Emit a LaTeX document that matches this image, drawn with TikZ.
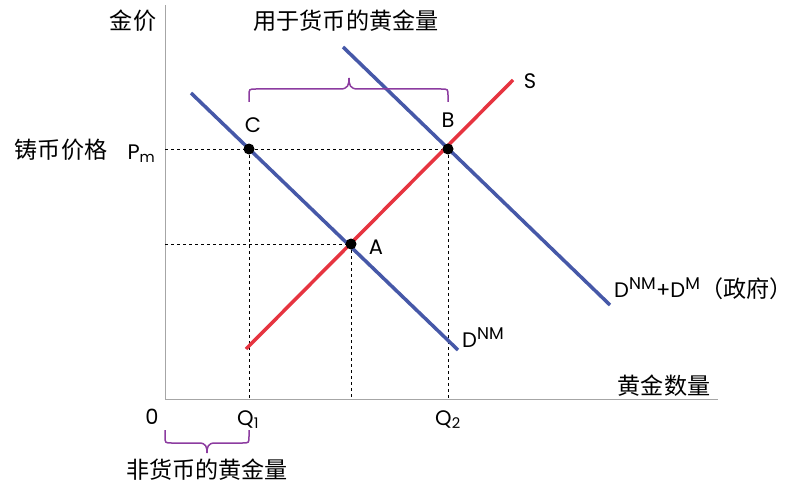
\documentclass[tikz,border=0pt]{standalone}
\usepackage{fontspec}
\setmainfont{Poppins}
\newfontfamily\cjk{Noto Sans CJK SC}[Scale=1.1]
\definecolor{demandblue}{RGB}{70,88,168}
\definecolor{supplyred}{RGB}{230,52,64}
\definecolor{bracepurple}{RGB}{140,60,160}

\begin{document}
\begin{tikzpicture}[x=1pt, y=-1pt, font=\fontsize{21}{24}\selectfont]
\useasboundingbox (0,0) rectangle (792,484);

        % Define axis points
        \coordinate (O) at (165, 399);
        \coordinate (Ytop) at (165, 5);
        \coordinate (Xend) at (718, 399);

        % Define intersection points
        \coordinate (C) at (249, 149);
        \coordinate (B) at (448, 149);
        \coordinate (A) at (351, 244);
        \coordinate (Pm) at (165, 149);
        \coordinate (Pa) at (165, 244);
        \coordinate (Q1) at (249, 399);
        \coordinate (QA) at (351, 399);
        \coordinate (Q2) at (448, 399);

        % Define curve ends
        \coordinate (N1) at (191, 93);
        \coordinate (N2) at (458, 350);
        \coordinate (M1) at (343, 47);
        \coordinate (M2) at (610, 305);
        \coordinate (S1) at (246, 349);
        \coordinate (S2) at (513, 80);

        % Draw axes
        \draw[line width=1pt, gray!70] (Ytop) -- (O) -- (Xend);

        % Draw dashed guides
        \draw[dashed, line width=0.8pt] (Pm) -- (B);
        \draw[dashed, line width=0.8pt] (Pa) -- (A);
        \draw[dashed, line width=0.8pt] (C) -- (Q1);
        \draw[dashed, line width=0.8pt] (A) -- (QA);
        \draw[dashed, line width=0.8pt] (B) -- (Q2);

        % Draw demand and supply
        \draw[line width=3.5pt, demandblue] (N1) -- (N2);
        \draw[line width=3.5pt, demandblue] (M1) -- (M2);
        \draw[line width=3.5pt, supplyred] (S1) -- (S2);

        % Draw dots
        \fill (C) circle (5.5);
        \fill (B) circle (5.5);
        \fill (A) circle (5.5);

        % Draw braces
        \draw[line width=1.5pt, bracepurple] (249, 102) -- (249, 96) .. controls (249, 89) .. (256, 89)
            -- (340, 89) .. controls (348, 89) and (349, 85) .. (349, 78)
            .. controls (349, 85) and (350, 89) .. (358, 89)
            -- (441, 89) .. controls (448, 89) .. (448, 96) -- (448, 102);
        \draw[line width=1.5pt, bracepurple] (165, 430) -- (165, 436) .. controls (165, 443) .. (172, 443)
            -- (199, 443) .. controls (206, 443) and (207, 447) .. (207, 453)
            .. controls (207, 447) and (208, 443) .. (215, 443)
            -- (242, 443) .. controls (249, 443) .. (249, 436) -- (249, 430);

        % Labels
        \node (jinjia) at (133, 21) {\cjk 金价};
        \node (yongyu) at (346, 21) {\cjk 用于货币的黄金量};
        \node (zhubi) at (61, 150) {\cjk 铸币价格};
        \node[anchor=base west] (pmlab) at (124, 159) {P\textsubscript{m}};
        \node (clab) at (253, 125) {C};
        \node (blab) at (448, 120) {B};
        \node (alab) at (376, 247) {A};
        \node (slab) at (530, 81) {S};
        \node[anchor=base west, inner sep=0pt] (dnm) at (462, 347) {D\textsuperscript{\fontsize{17}{20}\selectfont NM}};
        \node[anchor=base west, inner sep=0pt] (dsum) at (614, 297) {D\textsuperscript{\fontsize{17}{20}\selectfont NM}+D\textsuperscript{\fontsize{17}{20}\selectfont M}{\cjk （政府）}};
        \node (huangjin) at (664, 386) {\cjk 黄金数量};
        \node (zero) at (152, 417) {0};
        \node[anchor=base west, inner sep=0pt] (q1lab) at (237, 425) {Q\textsubscript{1}};
        \node[anchor=base west, inner sep=0pt] (q2lab) at (435, 425) {Q\textsubscript{2}};
        \node (feihuobi) at (207, 470) {\cjk 非货币的黄金量};
\end{tikzpicture}
\end{document}
